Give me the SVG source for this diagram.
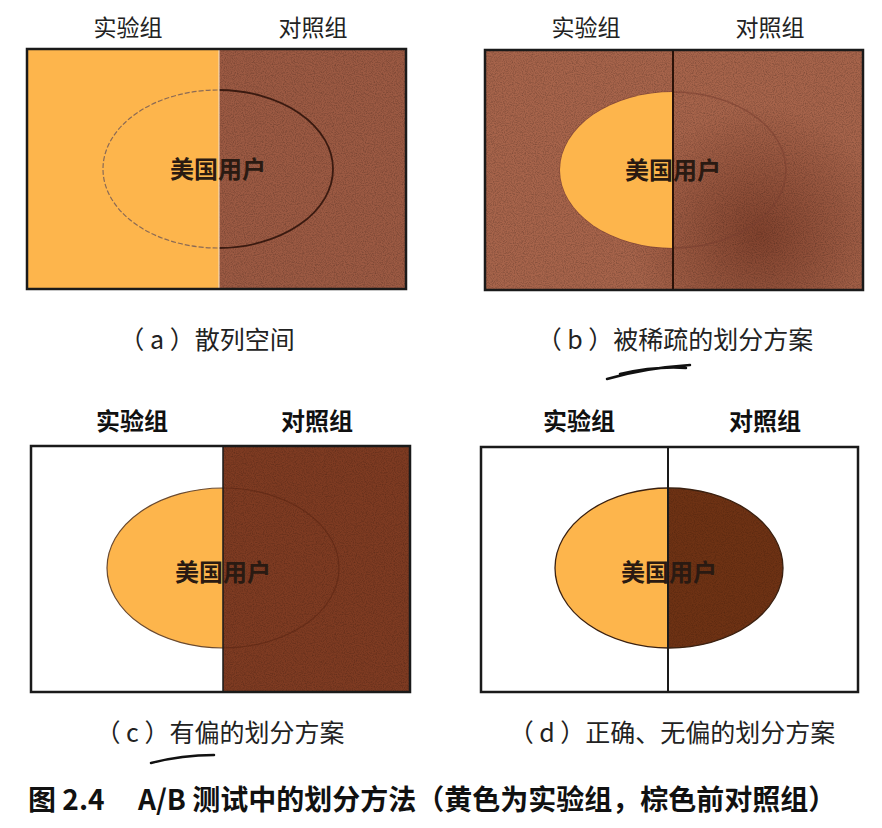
<svg xmlns="http://www.w3.org/2000/svg" width="882" height="828" viewBox="0 0 882 828">
<style>
.hdrS{font-family:"Noto Sans CJK SC","Liberation Serif",serif;font-size:23px;fill:#222;text-anchor:middle}
.hdrB{font-family:"Noto Sans CJK SC","Liberation Sans",sans-serif;font-size:24px;font-weight:bold;fill:#111;text-anchor:middle}
.lbl{font-family:"Noto Sans CJK SC","Liberation Sans",sans-serif;font-size:24px;font-weight:bold;fill:#2a1a12;text-anchor:middle}
.cap{font-family:"Noto Sans CJK SC","Liberation Sans",sans-serif;font-size:25px;fill:#222;text-anchor:middle}
.ttl{font-family:"Noto Sans CJK SC","Liberation Sans",sans-serif;font-size:28px;font-weight:bold;fill:#111}
.frame{fill:none;stroke:#1a1a1a;stroke-width:2.5}
.yel{fill:#FDB54C}
.pen{fill:none;stroke:#111;stroke-width:2.5;stroke-linecap:round}
</style>
<defs>
<filter id="grain" x="0" y="0" width="100%" height="100%">
<feTurbulence type="fractalNoise" baseFrequency="0.9" numOctaves="2" seed="3" result="n"/>
<feColorMatrix in="n" type="matrix" values="0 0 0 0 0  0 0 0 0 0  0 0 0 0 0  0 0 0 0.9 -0.35" result="m"/>
<feComposite in="m" in2="SourceAlpha" operator="in"/>
</filter>
<radialGradient id="darkB" cx="760" cy="235" r="130" gradientUnits="userSpaceOnUse">
<stop offset="0" stop-color="#5a2010" stop-opacity="0.5"/>
<stop offset="1" stop-color="#5a2010" stop-opacity="0"/>
</radialGradient>
<clipPath id="clipAL"><rect x="0" y="0" width="219" height="300"/></clipPath>
<clipPath id="clipAR"><rect x="219" y="0" width="200" height="300"/></clipPath>
<clipPath id="clipBL"><rect x="440" y="0" width="233" height="300"/></clipPath>
<clipPath id="clipCL"><rect x="0" y="440" width="223" height="260"/></clipPath>
<clipPath id="clipCR"><rect x="223" y="440" width="200" height="260"/></clipPath>
<clipPath id="clipDL"><rect x="440" y="440" width="228" height="260"/></clipPath>
<clipPath id="clipDR"><rect x="668" y="440" width="200" height="260"/></clipPath>
</defs>
<rect width="882" height="828" fill="#fff"/>

<g id="panel-a">
<text class="hdrS" x="128" y="36">实验组</text>
<text class="hdrS" x="313" y="36">对照组</text>
<rect x="27" y="49" width="192" height="240" class="yel"/>
<rect x="219" y="49" width="187" height="240" fill="#9C5A43"/>
<rect x="219" y="49" width="187" height="240" fill="#000" filter="url(#grain)" opacity="0.5"/>
<ellipse cx="218" cy="169" rx="115" ry="79" fill="none" stroke="#8a6a55" stroke-width="1.2" stroke-dasharray="5 2" clip-path="url(#clipAL)"/>
<ellipse cx="218" cy="169" rx="115" ry="79" fill="none" stroke="#3a1a10" stroke-width="1.8" clip-path="url(#clipAR)"/>
<line x1="219" y1="49" x2="219" y2="289" stroke="#f4e0c8" stroke-width="1"/>
<rect x="27" y="49" width="379" height="240" class="frame"/>
<text class="lbl" x="218" y="178">美国用户</text>
<text class="cap" x="207" y="349">（ a ）散列空间</text>
</g>

<g id="panel-b">
<text class="hdrS" x="586" y="36">实验组</text>
<text class="hdrS" x="770" y="36">对照组</text>
<rect x="485" y="50" width="378" height="240" fill="#A7644B"/>
<rect x="485" y="50" width="378" height="240" fill="url(#darkB)"/>
<rect x="485" y="50" width="378" height="240" fill="#000" filter="url(#grain)" opacity="0.5"/>
<ellipse cx="673" cy="170" rx="113" ry="78" fill="none" stroke="#7a4030" stroke-width="1.5" opacity="0.6"/>
<ellipse cx="673" cy="170" rx="113" ry="78" class="yel" clip-path="url(#clipBL)"/>
<line x1="673" y1="50" x2="673" y2="290" stroke="#2a1208" stroke-width="2"/>
<rect x="485" y="50" width="378" height="240" class="frame"/>
<text class="lbl" x="673" y="179">美国用户</text>
<text class="cap" x="675" y="349">（ b ）被稀疏的划分方案</text>
<path class="pen" d="M607 379 Q645 368 690 365 M620 374 Q655 366 686 368"/>
</g>

<g id="panel-c">
<text class="hdrB" x="132" y="430">实验组</text>
<text class="hdrB" x="317" y="430">对照组</text>
<rect x="31" y="446" width="192" height="246" fill="#fff"/>
<ellipse cx="223" cy="568" rx="116" ry="80" class="yel" stroke="#6a4a30" stroke-width="1.2" clip-path="url(#clipCL)"/>
<rect x="223" y="446" width="187" height="246" fill="#7E3B22"/>
<rect x="223" y="446" width="187" height="246" fill="#000" filter="url(#grain)" opacity="0.45"/>
<ellipse cx="223" cy="568" rx="116" ry="80" fill="none" stroke="#5a2512" stroke-width="1.2" opacity="0.6" clip-path="url(#clipCR)"/>
<line x1="223" y1="446" x2="223" y2="692" stroke="#1a1a1a" stroke-width="1.5"/>
<rect x="31" y="446" width="379" height="246" class="frame"/>
<text class="lbl" x="223" y="581">美国用户</text>
<text class="cap" x="220" y="742">（ c ）有偏的划分方案</text>
<path class="pen" d="M151 763 Q182 755 214 755"/>
</g>

<g id="panel-d">
<text class="hdrB" x="579" y="430">实验组</text>
<text class="hdrB" x="765" y="430">对照组</text>
<ellipse cx="669" cy="568" rx="114" ry="80" class="yel" clip-path="url(#clipDL)"/>
<ellipse cx="669" cy="568" rx="114" ry="80" fill="#6E3214" clip-path="url(#clipDR)"/>
<ellipse cx="669" cy="568" rx="114" ry="80" fill="#000" filter="url(#grain)" opacity="0.4" clip-path="url(#clipDR)"/>
<ellipse cx="669" cy="568" rx="114" ry="80" fill="none" stroke="#3a2010" stroke-width="1.3"/>
<line x1="668" y1="447" x2="668" y2="692" stroke="#1a1a1a" stroke-width="2"/>
<rect x="481" y="447" width="377" height="245" class="frame"/>
<text class="lbl" x="669" y="581">美国用户</text>
<text class="cap" x="672" y="742">（ d ）正确、无偏的划分方案</text>
</g>

<g id="title">
<text class="ttl" x="28" y="810">图 2.4<tspan x="138">A/B 测试中的划分方法（黄色为实验组，棕色前对照组）</tspan></text>
</g>
</svg>
